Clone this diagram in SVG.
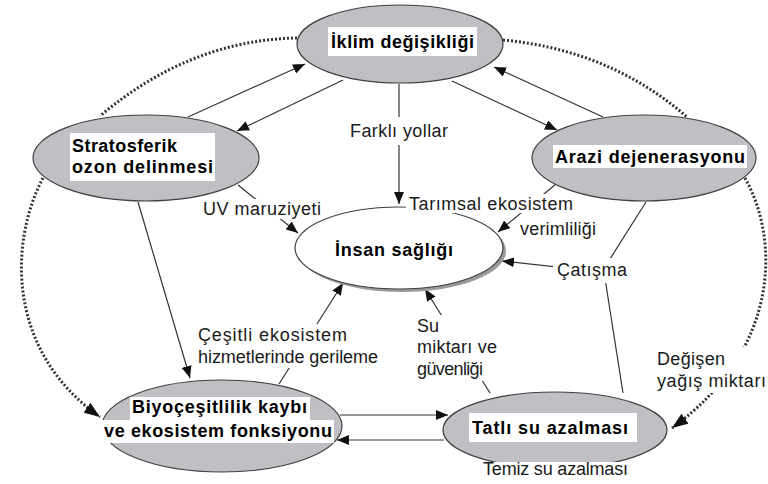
<svg xmlns="http://www.w3.org/2000/svg" width="768" height="484" viewBox="0 0 768 484">
<defs>
<style>
.node{fill:#bfbfc4;stroke:#404040;stroke-width:1.2}
.box{fill:#fff}
.nt{font-family:"Liberation Sans",Arial,sans-serif;font-weight:bold;font-size:18px;fill:#000}
.lt{font-family:"Liberation Sans",Arial,sans-serif;font-size:18px;fill:#1a1a1a}
.ln{fill:none;stroke:#333;stroke-width:1.2}
.dot{fill:none;stroke:#333;stroke-width:3;stroke-dasharray:2 2}
</style>
<marker id="arr" viewBox="0 0 12 10" refX="12" refY="5" markerWidth="12" markerHeight="10" markerUnits="userSpaceOnUse" orient="auto">
<path d="M0,0 L12,5 L0,10 z" fill="#111"/>
</marker>
<marker id="arrBig" viewBox="0 0 16 12" refX="16" refY="6" markerWidth="16" markerHeight="12" markerUnits="userSpaceOnUse" orient="auto">
<path d="M0,0 L16,6 L0,12 z" fill="#111"/>
</marker>
</defs>
<rect width="768" height="484" fill="#fff"/>
<g id="connectors">
<path class="dot" d="M297,38 Q190,40 100,116"/>
<path class="dot" d="M503,40 Q610,50 687,117"/>
<path class="dot" d="M43,178 C10,240 5,350 100,417" marker-end="url(#arrBig)"/>
<path class="dot" d="M745,178 C780,240 780,350 672,428" marker-end="url(#arrBig)"/>
<path class="ln" d="M188,117 L305,64" marker-end="url(#arr)"/>
<path class="ln" d="M343,80 L237,131" marker-end="url(#arr)"/>
<path class="ln" d="M452,81 L557,130" marker-end="url(#arr)"/>
<path class="ln" d="M603,117 L494,67" marker-end="url(#arr)"/>
<path class="ln" d="M399,84 L399,204" marker-end="url(#arr)"/>
<path class="ln" d="M556,184 L498,232" marker-end="url(#arr)"/>
<path class="ln" d="M646,202 L603,270"/>
<path class="ln" d="M623,393 L604,272"/>
<path class="ln" d="M603,272 L502,261" marker-end="url(#arr)"/>
<path class="ln" d="M238,185 L298,233" marker-end="url(#arr)"/>
<path class="ln" d="M138,202 L190,378" marker-end="url(#arr)"/>
<path class="ln" d="M279,384 L343,283" marker-end="url(#arr)"/>
<path class="ln" d="M490,393 L425,289" marker-end="url(#arr)"/>
<path class="ln" d="M340,415 L448,415" marker-end="url(#arr)"/>
<path class="ln" d="M444,440 L337,440" marker-end="url(#arr)"/>
</g>
<g id="iklim">
<ellipse class="node" cx="400" cy="44" rx="103" ry="39"/>
<rect class="box" x="328" y="27" width="149" height="29"/>
<text class="nt" x="331" y="48" textLength="143" lengthAdjust="spacing">İklim değişikliği</text>
</g>
<g id="stratosferik">
<ellipse class="node" cx="146" cy="158" rx="113" ry="43"/>
<rect class="box" x="70" y="133" width="145" height="48"/>
<text class="nt" x="72" y="152" textLength="105" lengthAdjust="spacing">Stratosferik</text>
<text class="nt" x="72" y="173" textLength="141" lengthAdjust="spacing">ozon delinmesi</text>
</g>
<g id="arazi">
<ellipse class="node" cx="644" cy="158" rx="112" ry="43"/>
<rect class="box" x="553" y="145" width="194" height="23"/>
<text class="nt" x="555" y="163" textLength="190" lengthAdjust="spacing">Arazi dejenerasyonu</text>
</g>
<g id="insan">
<ellipse cx="402" cy="251" rx="104" ry="41" fill="#9a9a9a"/>
<ellipse cx="399" cy="248" rx="104" ry="41" fill="#fff" stroke="#404040" stroke-width="1.2"/>
<text class="nt" x="335" y="256" textLength="118" lengthAdjust="spacing">İnsan sağlığı</text>
</g>
<g id="biyocesitlilik">
<ellipse class="node" cx="222" cy="426" rx="120" ry="46"/>
<rect class="box" x="130" y="397" width="180" height="23"/>
<rect class="box" x="101" y="420" width="233" height="23"/>
<text class="nt" x="132" y="413" textLength="175" lengthAdjust="spacing">Biyoçeşitlilik kaybı</text>
<text class="nt" x="104" y="437" textLength="228" lengthAdjust="spacing">ve ekosistem fonksiyonu</text>
</g>
<g id="tatlisu">
<ellipse class="node" cx="555" cy="430" rx="112" ry="38"/>
<rect class="box" x="469" y="413" width="168" height="29"/>
<text class="nt" x="472" y="434" textLength="156" lengthAdjust="spacing">Tatlı su azalması</text>
</g>
<g id="labels">
<rect class="box" x="347" y="117" width="104" height="28"/>
<text class="lt" x="350" y="137" textLength="98" lengthAdjust="spacing">Farklı yollar</text>
<rect class="box" x="200" y="199" width="124" height="20"/>
<text class="lt" x="203" y="215" textLength="118" lengthAdjust="spacing">UV maruziyeti</text>
<rect class="box" x="406" y="194" width="170" height="19"/>
<text class="lt" x="409" y="210" textLength="164" lengthAdjust="spacing">Tarımsal ekosistem</text>
<rect class="box" x="517" y="220" width="82" height="20"/>
<text class="lt" x="520" y="235" textLength="76" lengthAdjust="spacing">verimliliği</text>
<rect class="box" x="553" y="258" width="77" height="25"/>
<text class="lt" x="557" y="276" textLength="70" lengthAdjust="spacing">Çatışma</text>
<rect class="box" x="195" y="324" width="186" height="44"/>
<text class="lt" x="198" y="341" textLength="149" lengthAdjust="spacing">Çeşitli ekosistem</text>
<text class="lt" x="198" y="363" textLength="180" lengthAdjust="spacing">hizmetlerinde gerileme</text>
<rect class="box" x="414" y="315" width="86" height="66"/>
<text class="lt" x="417" y="332">Su</text>
<text class="lt" x="417" y="353" textLength="80" lengthAdjust="spacing">miktarı ve</text>
<text class="lt" x="417" y="375" textLength="66" lengthAdjust="spacing">güvenliği</text>
<rect class="box" x="654" y="347" width="114" height="46"/>
<text class="lt" x="657" y="365" textLength="68" lengthAdjust="spacing">Değişen</text>
<text class="lt" x="657" y="387" textLength="109" lengthAdjust="spacing">yağış miktarı</text>
<rect class="box" x="478" y="462" width="156" height="22"/>
<text class="lt" x="483" y="475" textLength="145" lengthAdjust="spacing">Temiz su azalması</text>
</g>
</svg>
